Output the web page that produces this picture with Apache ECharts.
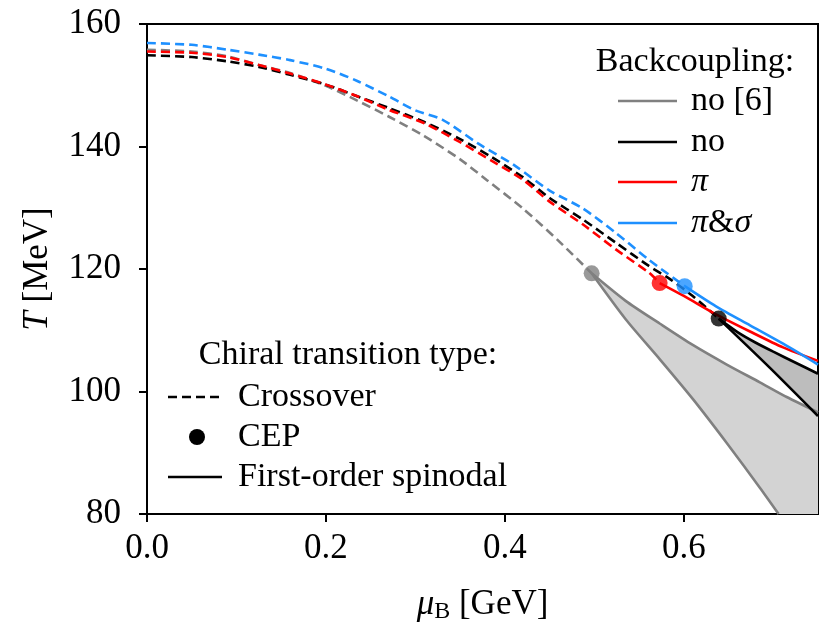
<!DOCTYPE html>
<html>
<head>
<meta charset="utf-8">
<script src="https://cdn.jsdelivr.net/npm/echarts@6/dist/echarts.min.js"></script>
<style>
  html, body { margin: 0; padding: 0; background: #fff; }
  #chart { width: 830px; height: 637px; }
</style>
</head>
<body>
<div id="chart"></div>
<script>
// axis ranges and ticks
var xRange = [0, 0.75];
var yRange = [80, 160];
var xTicks = [0, 0.2, 0.4, 0.6];
var yTicks = [80, 100, 120, 140, 160];

// crossover lines (dashed), [muB GeV, T MeV]
var grayCross = [[0,155.8],[0.05,155.5],[0.09,154.7],[0.125,153.3],[0.16,152.0],[0.2,149.9],[0.235,147.5],[0.27,144.9],[0.31,141.7],[0.35,137.9],[0.38,134.5],[0.42,129.9],[0.46,124.6],[0.497,119.3]];
var blackCross = [[0,154.9],[0.05,154.6],[0.09,153.9],[0.125,153.0],[0.16,151.7],[0.2,150.1],[0.235,148.2],[0.27,146.3],[0.31,144.0],[0.35,141.2],[0.385,138.3],[0.42,135.0],[0.45,131.6],[0.487,128.1],[0.524,124.3],[0.561,120.5],[0.585,118.3],[0.61,115.6],[0.639,111.9]];
var redCross = [[0,155.5],[0.05,155.3],[0.09,154.6],[0.125,153.3],[0.16,151.9],[0.2,150.1],[0.235,148.2],[0.27,146.0],[0.31,143.8],[0.35,140.7],[0.385,137.7],[0.42,134.6],[0.45,131.0],[0.487,127.3],[0.524,123.2],[0.561,119.4],[0.573,117.7]];
var blueCross = [[0,156.9],[0.05,156.6],[0.09,155.8],[0.125,155.0],[0.16,154.1],[0.2,152.7],[0.235,150.7],[0.27,148.2],[0.3,145.9],[0.33,144.4],[0.37,140.5],[0.41,137.0],[0.45,132.8],[0.487,129.9],[0.524,125.9],[0.561,121.5],[0.601,117.2]];

// first-order spinodals (solid)
var grayUpper = [[0.497,119.3],[0.535,114.8],[0.573,111.1],[0.61,107.6],[0.648,104.4],[0.685,101.5],[0.715,99.1],[0.75,96.6]];
var grayLower = [[0.497,119.3],[0.535,111.8],[0.573,105.3],[0.61,98.8],[0.648,91.6],[0.685,84.3],[0.706,80.0]];
var blackUpper = [[0.639,111.9],[0.66,109.7],[0.68,108.0],[0.7,106.5],[0.725,104.7],[0.75,102.9]];
var blackLower = [[0.639,111.9],[0.696,103.9],[0.75,96.0]];
var redSolid = [[0.573,117.7],[0.6,115.6],[0.636,112.6],[0.674,109.8],[0.711,107.2],[0.75,105.0]];
var blueSolid = [[0.601,117.2],[0.636,113.9],[0.674,110.8],[0.711,107.8],[0.75,104.4]];

// critical end points
var cepPoints = [[0.497,119.3],[0.573,117.7],[0.601,117.2],[0.639,111.9]];
var cepColors = ['#808080', '#ff0000', '#1e90ff', '#000000'];

var serif = '"Liberation Serif", "DejaVu Serif", serif';

function fillSeries(points, color) {
    return {
        type: 'custom',
        coordinateSystem: 'cartesian2d',
        clip: true,
        silent: true,
        z: 1,
        data: [points[0]],
        renderItem: function (params, api) {
            var pts = points.map(function (p) { return api.coord(p); });
            return { type: 'polygon', shape: { points: pts }, style: { fill: color } };
        }
    };
}

function lineSeries(data, color, dashed, z) {
    return {
        type: 'line',
        data: data,
        showSymbol: false,
        smooth: 0.25,
        clip: true,
        silent: true,
        z: z,
        lineStyle: { color: color, width: 2.6, type: dashed ? [9, 5] : 'solid' }
    };
}

var lightRegion = grayUpper.concat([[xRange[1], yRange[0]]], grayLower.slice().reverse());
var darkRegion = blackUpper.concat(blackLower.slice().reverse());

var legendFont = '34px ' + serif;

var option = {
    animation: false,
    backgroundColor: '#fff',
    grid: { left: 147, right: 12, top: 24, bottom: 123, show: true, borderColor: '#000', borderWidth: 2, backgroundColor: 'transparent' },
    xAxis: {
        type: 'value', min: xRange[0], max: xRange[1], interval: 0.2,
        name: '{m|μ}{s|B} [GeV]',
        nameLocation: 'middle', nameGap: 72,
        nameTextStyle: {
            fontFamily: serif, fontSize: 35, color: '#000',
            rich: {
                m: { fontFamily: serif, fontSize: 35, fontStyle: 'italic', color: '#000' },
                s: { fontFamily: serif, fontSize: 24, color: '#000', padding: [14, 0, 0, 0] }
            }
        },
        axisLine: { lineStyle: { color: '#000', width: 2 } },
        axisTick: { show: true, inside: false, length: 8, lineStyle: { color: '#000', width: 2 }, customValues: xTicks },
        axisLabel: { customValues: xTicks, margin: 17, fontFamily: serif, fontSize: 35, color: '#000',
            formatter: function (v) { return v.toFixed(1); } },
        splitLine: { show: false }
    },
    yAxis: {
        type: 'value', min: yRange[0], max: yRange[1], interval: 20,
        name: '{t|T} [MeV]',
        nameLocation: 'middle', nameGap: 92, nameRotate: 90,
        nameTextStyle: {
            fontFamily: serif, fontSize: 35, color: '#000',
            rich: { t: { fontFamily: serif, fontSize: 35, fontStyle: 'italic', color: '#000' } }
        },
        axisLine: { lineStyle: { color: '#000', width: 2 } },
        axisTick: { show: true, inside: false, length: 8, lineStyle: { color: '#000', width: 2 }, customValues: yTicks },
        axisLabel: { customValues: yTicks, margin: 26, fontFamily: serif, fontSize: 35, color: '#000' },
        splitLine: { show: false }
    },
    series: [
        fillSeries(lightRegion, '#d3d3d3'),
        fillSeries(darkRegion, '#bdbdbd'),
        lineSeries(grayCross, '#808080', true, 2),
        lineSeries(grayUpper, '#808080', false, 2),
        lineSeries(grayLower, '#808080', false, 2),
        lineSeries(blackCross, '#000000', true, 3),
        lineSeries(blackUpper, '#000000', false, 3),
        lineSeries(blackLower, '#000000', false, 3),
        lineSeries(redCross, '#ff0000', true, 4),
        lineSeries(redSolid, '#ff0000', false, 4),
        lineSeries(blueCross, '#1e90ff', true, 5),
        lineSeries(blueSolid, '#1e90ff', false, 5),
        {
            type: 'scatter', z: 10, silent: true, symbol: 'circle', symbolSize: 16,
            data: cepPoints.map(function (p, i) { return { value: p, itemStyle: { color: cepColors[i] } }; })
        }
    ],
    graphic: [
        // Backcoupling legend
        { type: 'text', style: { text: 'Backcoupling:', x: 695, y: 62, align: 'center', verticalAlign: 'middle', font: legendFont, fill: '#000' } },
        { type: 'line', shape: { x1: 618, y1: 101, x2: 677, y2: 101 }, style: { stroke: '#808080', lineWidth: 2.6 } },
        { type: 'text', style: { text: 'no [6]', x: 691, y: 101, verticalAlign: 'middle', font: legendFont, fill: '#000' } },
        { type: 'line', shape: { x1: 618, y1: 142, x2: 677, y2: 142 }, style: { stroke: '#000', lineWidth: 2.6 } },
        { type: 'text', style: { text: 'no', x: 691, y: 142, verticalAlign: 'middle', font: legendFont, fill: '#000' } },
        { type: 'line', shape: { x1: 618, y1: 182, x2: 677, y2: 182 }, style: { stroke: '#ff0000', lineWidth: 2.6 } },
        { type: 'text', style: { text: 'π', x: 691, y: 182, verticalAlign: 'middle', font: 'italic ' + legendFont, fill: '#000' } },
        { type: 'line', shape: { x1: 618, y1: 223, x2: 677, y2: 223 }, style: { stroke: '#1e90ff', lineWidth: 2.6 } },
        { type: 'text', style: { text: '{i|π}&{i|σ}', x: 691, y: 223, verticalAlign: 'middle', font: legendFont, fill: '#000',
            rich: { i: { fontFamily: serif, fontSize: 34, fontStyle: 'italic', fill: '#000' } } } },
        // Transition type legend
        { type: 'text', style: { text: 'Chiral transition type:', x: 348, y: 355, align: 'center', verticalAlign: 'middle', font: legendFont, fill: '#000' } },
        { type: 'line', shape: { x1: 168, y1: 397, x2: 222, y2: 397 }, style: { stroke: '#000', lineWidth: 2.6, lineDash: [9, 5] } },
        { type: 'text', style: { text: 'Crossover', x: 238, y: 397, verticalAlign: 'middle', font: legendFont, fill: '#000' } },
        { type: 'circle', shape: { cx: 197, cy: 437, r: 8 }, style: { fill: '#000' } },
        { type: 'text', style: { text: 'CEP', x: 238, y: 437, verticalAlign: 'middle', font: legendFont, fill: '#000' } },
        { type: 'line', shape: { x1: 168, y1: 477, x2: 222, y2: 477 }, style: { stroke: '#000', lineWidth: 2.6 } },
        { type: 'text', style: { text: 'First-order spinodal', x: 238, y: 477, verticalAlign: 'middle', font: legendFont, fill: '#000' } }
    ]
};

var myChart = echarts.init(document.getElementById('chart'));
myChart.setOption(option);
</script>
</body>
</html>
